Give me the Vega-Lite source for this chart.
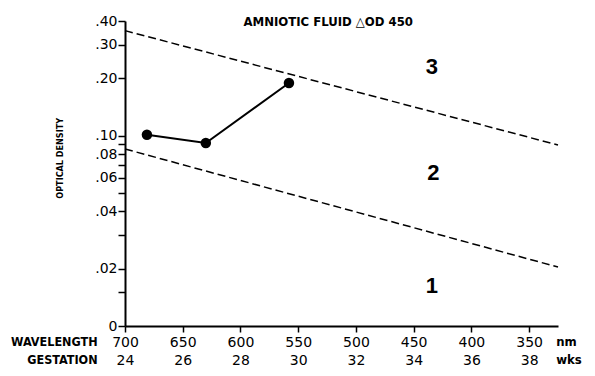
{
  "$schema": "https://vega.github.io/schema/vega-lite/v6.json",
  "width": 433,
  "height": 305,
  "autosize": "none",
  "padding": {"left": 125, "top": 21, "right": 37, "bottom": 50},
  "background": "white",
  "config": {
    "view": {"stroke": null},
    "font": "Liberation Sans",
    "axis": {
      "domainColor": "black",
      "domainWidth": 2,
      "tickColor": "black",
      "tickWidth": 1.5,
      "grid": false,
      "labelColor": "black",
      "labelFont": "DejaVu Sans",
      "labelFontSize": 14,
      "labelFontWeight": 500,
      "title": null
    }
  },
  "datasets": {
    "bounds": [
      {"zone": "upper", "weeks": 24, "od": 0.356},
      {"zone": "upper", "weeks": 39, "od": 0.0893},
      {"zone": "lower", "weeks": 24, "od": 0.0851},
      {"zone": "lower", "weeks": 39, "od": 0.0204}
    ],
    "obs": [
      {"weeks": 24.76, "od": 0.101},
      {"weeks": 26.8, "od": 0.0914},
      {"weeks": 29.68, "od": 0.189}
    ],
    "zones": [
      {"label": "3", "weeks": 34.63, "od": 0.229},
      {"label": "2", "weeks": 34.68, "od": 0.0634},
      {"label": "1", "weeks": 34.63, "od": 0.0162}
    ],
    "leftnotes": [
      {"text": "WAVELENGTH", "weeks": 23.05, "od": 0.00824},
      {"text": "GESTATION", "weeks": 23.05, "od": 0.0066}
    ],
    "rightnotes": [
      {"text": "nm", "weeks": 38.94, "od": 0.00824},
      {"text": "wks", "weeks": 38.94, "od": 0.0066}
    ]
  },
  "encoding": {
    "x": {
      "field": "weeks",
      "type": "quantitative",
      "scale": {"domain": [24, 39], "nice": false, "zero": false},
      "axis": {
        "values": [24, 26, 28, 30, 32, 34, 36, 38],
        "labelExpr": "[format(700 - (datum.value - 24) * 25, 'd'), format(datum.value, 'd')]",
        "labelLineHeight": 18,
        "labelPadding": 3,
        "tickSize": 6,
        "labelFlush": false
      }
    },
    "y": {
      "field": "od",
      "type": "quantitative",
      "scale": {"type": "log", "domain": [0.01, 0.4], "nice": false},
      "axis": {
        "values": [0.01, 0.015, 0.02, 0.03, 0.04, 0.05, 0.06, 0.07, 0.08, 0.09, 0.1, 0.2, 0.3, 0.4],
        "labelExpr": "datum.value == 0.01 ? '0' : (indexof([0.02, 0.04, 0.06, 0.08, 0.1, 0.2, 0.3, 0.4], datum.value) >= 0 ? replace(format(datum.value, '.2f'), '0.', '.') : '')",
        "tickSize": 7,
        "labelPadding": 1,
        "labelFlush": false,
        "labelOverlap": false
      }
    }
  },
  "layer": [
    {
      "data": {"name": "bounds"},
      "mark": {"type": "line", "color": "black", "strokeWidth": 1.5, "strokeDash": [8, 4]},
      "encoding": {"detail": {"field": "zone"}}
    },
    {
      "data": {"name": "obs"},
      "mark": {"type": "line", "color": "black", "strokeWidth": 2},
      "encoding": {}
    },
    {
      "data": {"name": "obs"},
      "mark": {"type": "point", "filled": true, "color": "black", "size": 110, "opacity": 1}
    },
    {
      "data": {"name": "zones"},
      "mark": {"type": "text", "fontSize": 22, "fontWeight": "bold", "color": "black", "baseline": "middle", "align": "center"},
      "encoding": {"text": {"field": "label"}}
    },
    {
      "data": {"name": "leftnotes"},
      "mark": {"type": "text", "fontSize": 12.5, "fontWeight": "bold", "color": "black", "baseline": "middle", "align": "right", "font": "DejaVu Sans Condensed"},
      "encoding": {"text": {"field": "text"}}
    },
    {
      "data": {"name": "rightnotes"},
      "mark": {"type": "text", "fontSize": 13, "fontWeight": "bold", "color": "black", "baseline": "middle", "align": "left", "font": "DejaVu Sans Condensed"},
      "encoding": {"text": {"field": "text"}}
    },
    {
      "data": {"values": [{"text": "AMNIOTIC FLUID \u25b3OD 450", "weeks": 31.04, "od": 0.395}]},
      "mark": {"type": "text", "fontSize": 13, "fontWeight": "bold", "font": "DejaVu Sans Condensed", "color": "black", "baseline": "middle", "align": "center"},
      "encoding": {"text": {"field": "text"}}
    },
    {
      "data": {"values": [{"text": "OPTICAL DENSITY", "weeks": 21.74, "od": 0.076}]},
      "mark": {"type": "text", "fontSize": 9, "fontWeight": "bold", "font": "DejaVu Sans Condensed", "color": "black", "baseline": "middle", "align": "center", "angle": 270},
      "encoding": {"text": {"field": "text"}}
    }
  ]
}
